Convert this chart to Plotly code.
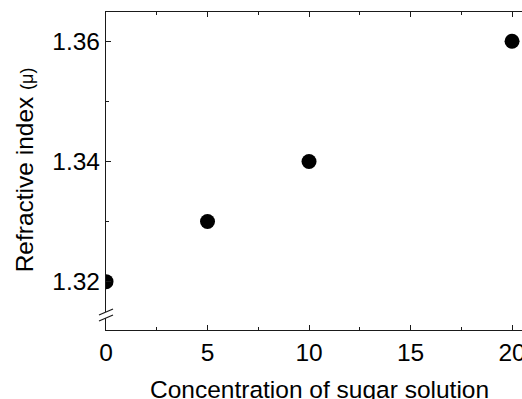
import plotly.graph_objects as go

concentration = [0, 5, 10, 20]
refractive_index = [1.32, 1.33, 1.34, 1.36]
x_ticks = [0, 5, 10, 15, 20]
y_ticks = [1.32, 1.34, 1.36]
x_title = "Concentration of sugar solution"
y_title = "Refractive index <span style='font-size:18px'>(μ)</span>"

FONT = "Arial, Liberation Sans, sans-serif"
AX = "#1a1a1a"
FS = 24.5

fig = go.Figure()
fig.add_trace(go.Scatter(
    x=concentration, y=refractive_index, mode="markers",
    marker=dict(size=15, color="black"), cliponaxis=True, showlegend=False,
))

fig.update_layout(
    width=522, height=399,
    margin=dict(l=106, r=0, t=12, b=69, autoexpand=False),
    paper_bgcolor="white", plot_bgcolor="white",
    font=dict(family=FONT, size=FS, color="black"),
    xaxis=dict(
        range=[0, 20.49], tickvals=x_ticks, ticktext=[str(v) for v in x_ticks],
        ticks="inside", ticklen=5, tickwidth=1.2, tickcolor=AX,
        showline=True, linecolor=AX, linewidth=1.3, mirror="ticks",
        showgrid=False, zeroline=False, automargin=False,
        ticklabeloverflow="allow",
        minor=dict(ticks="inside", ticklen=3, dtick=2.5, tick0=0, tickcolor=AX, showgrid=False),
        tickfont=dict(size=FS),
    ),
    yaxis=dict(
        range=[1.31195, 1.36487], tickvals=y_ticks, ticktext=["%.2f" % v for v in y_ticks],
        ticks="inside", ticklen=5, tickwidth=1.2, tickcolor=AX,
        showline=True, linecolor=AX, linewidth=1.3, mirror=False,
        showgrid=False, zeroline=False, automargin=False,
        minor=dict(ticks="inside", ticklen=3, dtick=0.01, tick0=1.32, tickcolor=AX, showgrid=False),
        tickfont=dict(size=FS),
    ),
    annotations=[
        dict(text=x_title, xref="paper", yref="paper", x=0.513, y=0, yshift=-44,
             xanchor="center", yanchor="top", showarrow=False, font=dict(size=FS)),
        dict(text=y_title, xref="paper", yref="paper", x=0, xshift=-82, y=0.502,
             xanchor="center", yanchor="middle", textangle=-90, showarrow=False,
             font=dict(size=FS)),
    ],
)

# axis break marks on the y axis
brk_y = 1.31445
fig.add_shape(type="rect", xref="paper", yref="y", xsizemode="pixel", ysizemode="pixel",
              xanchor=0, x0=-3, x1=3, yanchor=brk_y, y0=-3, y1=3,
              fillcolor="white", line=dict(width=0), layer="above")
for dy in (3, -3):
    fig.add_shape(type="line", xref="paper", yref="y", xsizemode="pixel", ysizemode="pixel",
                  xanchor=0, x0=-7, x1=7, yanchor=brk_y, y0=dy - 3, y1=dy + 3,
                  line=dict(color=AX, width=1.3), layer="above")

fig.write_html("out.html", config={"displayModeBar": False},
               post_script="document.body.style.margin='0';")
